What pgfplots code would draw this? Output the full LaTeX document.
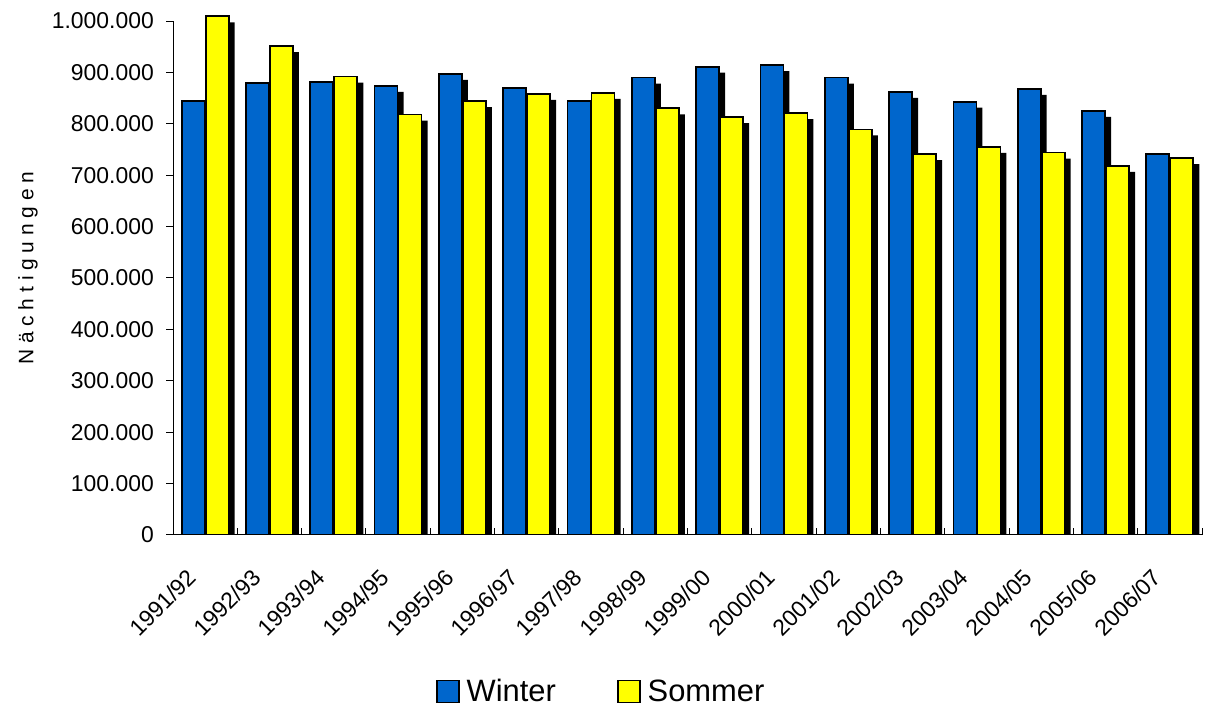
\documentclass[border=0pt]{standalone}
\usepackage{pgfplots}
\pgfplotsset{compat=1.18}
\usepackage{pgfplotstable}
\usepackage{fontspec}
\setmainfont{Liberation Sans}
\definecolor{winterblue}{RGB}{0,102,204}
\definecolor{sommeryellow}{RGB}{255,255,0}
\pgfplotstableread{
cat W S
0 844000 1009000
1 879000 951000
2 882000 892000
3 874000 818000
4 897000 844000
5 870000 858000
6 845000 860000
7 890000 830000
8 911000 813000
9 914000 821000
10 890000 789000
11 862000 741000
12 843000 755000
13 868000 744000
14 825000 718000
15 741000 733000
}\datatable
\begin{document}
\begin{tikzpicture}[x=1bp,y=1bp]
\useasboundingbox (0,0) rectangle (1205,710);
\begin{axis}[
  at={(173bp,175bp)}, anchor=south west,
  scale only axis, width=1029bp, height=529.4bp,
  xmin=-0.5, xmax=15.5, ymin=0, ymax=1030000,
  axis x line*=bottom, axis y line*=left,
  y axis line style={draw=none},
  x axis line style={line width=1bp, black},
  ybar, bar width=23bp,
  xtick={0,...,15},
  xticklabels={1991/92,1992/93,1993/94,1994/95,1995/96,1996/97,1997/98,1998/99,1999/00,2000/01,2001/02,2002/03,2003/04,2004/05,2005/06,2006/07},
  minor xtick={-0.5,0.5,...,15.5},
  major x tick style={draw=none},
  minor x tick style={line width=1bp, black},
  xtick align=inside, ytick align=outside,
  major tick length=7bp, minor tick length=7bp,
  ytick={0,100000,...,1000000},
  y tick style={line width=1bp, black},
  scaled y ticks=false,
  /pgf/number format/fixed,
  /pgf/number format/1000 sep={.},
  /pgf/number format/assume math mode=true,
  ticklabel style={font=\fontsize{23}{27}\selectfont},
  xticklabel style={xshift=-19bp, yshift=-32bp, rotate=45, anchor=north east, inner sep=0pt},
  yticklabel style={inner sep=0pt, xshift=-12bp},
  ylabel={N ä c h t i g u n g e n},
  every axis y label/.style={at={(axis description cs:-0.141,0.504)}, rotate=90, anchor=center, font=\fontsize{21}{25}\selectfont},
  legend style={at={(axis description cs:0.4185,-0.2955)}, anchor=center, legend columns=2, draw=none, font=\fontsize{31}{35}\selectfont, /tikz/every even column/.append style={column sep=54bp}, inner sep=0pt, nodes={inner xsep=7bp, inner ysep=0pt}},
]
\addplot[forget plot, fill=winterblue, draw=black, line width=1.8bp, bar shift=-12bp,
  preaction={fill=black, draw=none, transform canvas={xshift=6bp, yshift=-6bp}}]
  table[x=cat, y=W] {\datatable};
\addplot[forget plot, fill=sommeryellow, draw=black, line width=1.8bp, bar shift=12bp,
  preaction={fill=black, draw=none, transform canvas={xshift=6bp, yshift=-6bp}}]
  table[x=cat, y=S] {\datatable};
\addlegendimage{legend image code/.code={\draw[fill=winterblue,draw=black,line width=1.8bp] (0bp,-11bp) rectangle (22bp,11bp);}}
\addlegendentry{Winter}
\addlegendimage{legend image code/.code={\draw[fill=sommeryellow,draw=black,line width=1.8bp] (0bp,-11bp) rectangle (22bp,11bp);}}
\addlegendentry{Sommer}
\draw[line width=1bp, black] (axis cs:-0.5,0) -- (axis cs:-0.5,1000000);
\end{axis}
\end{tikzpicture}
\end{document}
